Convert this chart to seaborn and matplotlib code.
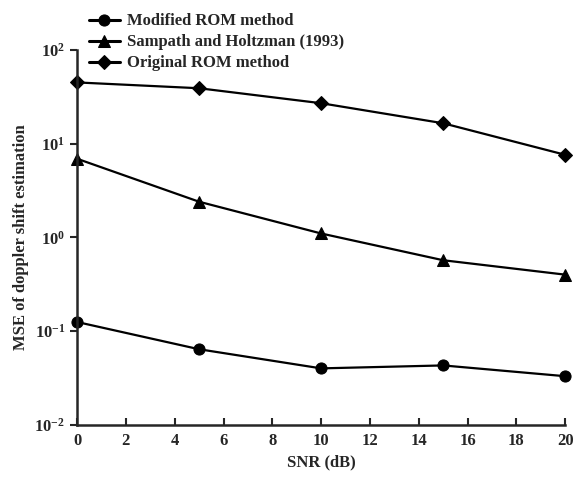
import pandas as pd
import seaborn as sns
import matplotlib.pyplot as plt

snr = [0, 5, 10, 15, 20]
modified_rom = [0.125, 0.064, 0.040, 0.043, 0.033]
sampath = [6.9, 2.4, 1.1, 0.57, 0.40]
original_rom = [45, 39, 27, 16.5, 7.6]
labels = ["Modified ROM method", "Sampath and Holtzman (1993)", "Original ROM method"]

df = pd.DataFrame({
    "SNR": snr * 3,
    "MSE": modified_rom + sampath + original_rom,
    "method": [labels[0]] * 5 + [labels[1]] * 5 + [labels[2]] * 5,
})

sns.set_style("ticks")
plt.rcParams['font.family'] = ['Liberation Serif', 'DejaVu Serif']
plt.rcParams['font.weight'] = 'bold'
plt.rcParams['mathtext.fontset'] = 'custom'
plt.rcParams['mathtext.rm'] = 'Liberation Serif:bold'
plt.rcParams['mathtext.default'] = 'rm'

fig = plt.figure(figsize=(5.75, 4.8), dpi=100)
ax = fig.add_axes([0.134, 0.115, 0.849, 0.781])

sns.lineplot(data=df, x="SNR", y="MSE", hue="method", style="method",
             palette=["black"] * 3, markers={labels[0]: "o", labels[1]: "^", labels[2]: "D"},
             dashes=False, markersize=8, linewidth=1.6, markeredgecolor="black",
             ax=ax)
for ln in ax.lines:
    ln.set_clip_on(False)
    if ln.get_marker() == "D":
        ln.set_markersize(7)

ax.set_yscale("log")
ax.set_ylim(1e-2, 1e2)
ax.set_xlim(0, 20)
ax.set_xticks(range(0, 21, 2))
ax.set_yticks([1e-2, 1e-1, 1e0, 1e1, 1e2])
ax.minorticks_off()
ax.tick_params(axis="x", direction="in", length=5, width=1.5, labelsize=12, pad=6)
ax.tick_params(axis="y", direction="out", length=5, width=1.5, labelsize=12)
for s in ["left", "bottom"]:
    ax.spines[s].set_linewidth(1.8)
sns.despine(ax=ax)

ax.set_xlabel("SNR (dB)", fontsize=12, fontweight="bold")
ax.set_ylabel("MSE of doppler shift estimation", fontsize=12, fontweight="bold")

leg = ax.legend(loc="upper left", bbox_to_anchor=(0.01, 1.115), frameon=False,
                fontsize=12, handlelength=1.9, labelspacing=0.3, borderaxespad=0,
                handletextpad=0.4)
for h in leg.legend_handles:
    h.set_linestyle("-")
    h.set_linewidth(2.2)
    h.set_markeredgecolor("black")

plt.savefig("out.png", dpi=100)
plt.close()
